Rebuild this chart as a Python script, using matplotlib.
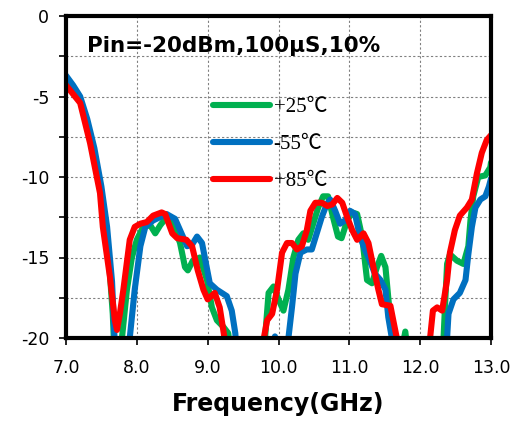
import matplotlib.pyplot as plt
import numpy as np

# frequency (GHz) / response (dB), one pair per temperature
f_25 = [7.0, 7.2, 7.36, 7.5, 7.6, 7.66, 7.68, 7.72, 7.76, 7.79, 7.86, 7.93, 8.0, 8.09, 8.19,
        8.26, 8.33, 8.42, 8.52, 8.61, 8.68, 8.72, 8.79, 8.89, 8.99, 9.06, 9.13, 9.22, 9.29,
        9.33, 9.4, 9.75, 9.81, 9.86, 9.93, 10.0, 10.07, 10.14, 10.21, 10.28, 10.35, 10.42,
        10.49, 10.56, 10.63, 10.7, 10.77, 10.84, 10.89, 10.97, 11.04, 11.11, 11.18, 11.25,
        11.32, 11.39, 11.45, 11.51, 11.55, 11.6, 11.65, 11.73, 11.79, 11.84, 11.9, 12.28,
        12.33, 12.35, 12.38, 12.42, 12.52, 12.61, 12.68, 12.71, 12.75, 12.82, 12.92, 12.99, 13.0]
s_25 = [-4.0, -5.2, -7.9, -11.0, -14.8, -18.5, -20.5, -22, -22, -20.0, -17.0, -15.0, -13.9, -13.1, -13.0,
        -13.5, -13.0, -12.5, -13.0, -14.1, -15.6, -15.8, -15.2, -15.0, -16.4, -18.1, -18.9, -19.3, -19.7,
        -21, -23, -23, -20.0, -17.2, -16.8, -17.6, -18.3, -17.0, -15.0, -13.9, -13.5, -13.9,
        -12.9, -11.9, -11.2, -11.2, -12.5, -13.7, -13.8, -12.7, -12.2, -12.3, -13.7, -16.4,
        -16.6, -15.6, -14.9, -15.6, -17.5, -19.7, -21.5, -21, -19.6, -21.5, -23, -23,
        -20.0, -18.1, -15.4, -14.8, -15.2, -15.4, -14.3, -12.7, -11.2, -10.0, -9.9, -9.4, -9.1]

f_m55 = [7.0, 7.1, 7.2, 7.3, 7.4, 7.5, 7.58, 7.65, 7.69, 7.72, 7.86, 7.9, 7.97, 8.05, 8.12,
         8.23, 8.42, 8.54, 8.61, 8.71, 8.78, 8.85, 8.92, 9.03, 9.13, 9.27, 9.34, 9.39, 9.42,
         9.5, 9.9, 9.95, 10.0, 10.08, 10.14, 10.19, 10.24, 10.31, 10.4, 10.47, 10.54, 10.61,
         10.68, 10.73, 10.8, 10.87, 10.94, 11.01, 11.08, 11.15, 11.22, 11.29, 11.36, 11.44,
         11.51, 11.55, 11.6, 11.63, 12.3, 12.38, 12.4, 12.47, 12.56, 12.64, 12.68, 12.73,
         12.78, 12.85, 12.92, 12.97, 13.0]
s_m55 = [-3.7, -4.3, -5.0, -6.4, -8.2, -10.6, -13.1, -16.5, -20.5, -23, -23, -20.0, -17.0, -14.3, -13.1,
         -12.7, -12.3, -12.6, -13.3, -14.3, -14.2, -13.7, -14.1, -16.6, -17.0, -17.4, -18.3, -19.7, -21.5,
         -23, -21, -19.9, -21, -23, -20.0, -18.1, -16.0, -14.7, -14.5, -14.5, -13.5, -12.5,
         -11.7, -11.4, -12.1, -12.9, -12.7, -12.1, -12.3, -13.7, -14.5, -15.2, -16.0, -16.4,
         -17.0, -18.7, -20.0, -22, -22, -20.0, -18.5, -17.6, -17.2, -16.4, -14.8, -13.1,
         -11.9, -11.4, -11.2, -10.6, -10.1]

f_85 = [7.0, 7.2, 7.34, 7.48, 7.52, 7.62, 7.69, 7.72, 7.76, 7.81, 7.9, 7.97, 8.05, 8.14, 8.23,
        8.35, 8.4, 8.5, 8.57, 8.7, 8.78, 8.86, 8.94, 9.0, 9.1, 9.17, 9.22, 9.27, 9.3, 9.75,
        9.78, 9.84, 9.91, 9.98, 10.05, 10.12, 10.19, 10.26, 10.33, 10.4, 10.45, 10.52, 10.61,
        10.69, 10.76, 10.83, 10.9, 10.97, 11.04, 11.11, 11.2, 11.27, 11.34, 11.41, 11.46,
        11.58, 11.62, 11.67, 11.7, 12.1, 12.14, 12.18, 12.24, 12.31, 12.38, 12.42, 12.49,
        12.56, 12.66, 12.73, 12.8, 12.87, 12.94, 13.0]
s_85 = [-4.3, -5.4, -7.9, -11.0, -13.1, -16.2, -18.9, -19.5, -18.5, -17.0, -13.9, -13.1, -12.9, -12.8, -12.4,
        -12.2, -12.3, -13.5, -13.8, -13.9, -14.3, -15.8, -17.0, -17.6, -17.2, -18.1, -19.5, -21, -23, -23,
        -20.3, -18.9, -18.5, -17.0, -14.7, -14.1, -14.1, -14.5, -14.3, -13.3, -12.1, -11.6, -11.6,
        -11.8, -11.7, -11.3, -11.6, -12.5, -13.3, -13.9, -13.5, -14.1, -15.6, -17.0, -17.9,
        -18.0, -18.9, -20.0, -21.5, -22, -20.0, -18.3, -18.1, -18.3, -16.4, -14.7, -13.3,
        -12.4, -11.9, -11.4, -9.8, -8.5, -7.7, -7.4]

labels = ['+25℃', '-55℃', '+85℃']
colors = ['#00B050', '#0070C0', '#FF0000']
x_ticks = [7, 8, 9, 10, 11, 12, 13]
y_ticks = [0, -2.5, -5, -7.5, -10, -12.5, -15, -17.5, -20]

fig = plt.figure(figsize=(5.13, 4.21), dpi=100)
ax = fig.add_axes([66 / 513, 83 / 421, 425 / 513, 322 / 421])

for f, s, lab, c in zip([f_25, f_m55, f_85], [s_25, s_m55, s_85], labels, colors):
    ax.plot(f, s, color=c, lw=4.4, label=lab, solid_capstyle='round', solid_joinstyle='round')

ax.set_xlim(7, 13)
ax.set_ylim(-20, 0)
ax.set_xticks(x_ticks)
ax.set_xticklabels(['%.1f' % t for t in x_ticks])
ax.set_yticks(y_ticks)
ax.set_yticklabels(['%g' % t if t % 5 == 0 else '' for t in y_ticks])
ax.tick_params(labelsize=12.5, length=5, width=1.2, direction='out')
ax.tick_params(axis='x', pad=10)
ax.tick_params(axis='y', pad=7)
ax.grid(True, color='#808080', lw=0.8, ls=(0, (2, 2)))
for sp in ax.spines.values():
    sp.set_linewidth(3)

ax.set_xlabel('Frequency(GHz)', fontsize=17, fontweight='bold', labelpad=11)
ax.text(0.049, 0.907, 'Pin=-20dBm,100μS,10%', transform=ax.transAxes,
        fontsize=15.5, fontweight='bold', va='center', ha='left')

leg = ax.legend(loc='upper left', bbox_to_anchor=(0.322, 0.78), frameon=False,
                handlelength=2.7, handletextpad=0.2, labelspacing=0.85, borderpad=0,
                prop={'family': ['Liberation Serif', 'Noto Sans CJK SC'], 'size': 15})
for h in leg.get_lines():
    h.set_linewidth(4.4)
    h.set_solid_capstyle('round')

fig.savefig('out.png', dpi=100)
